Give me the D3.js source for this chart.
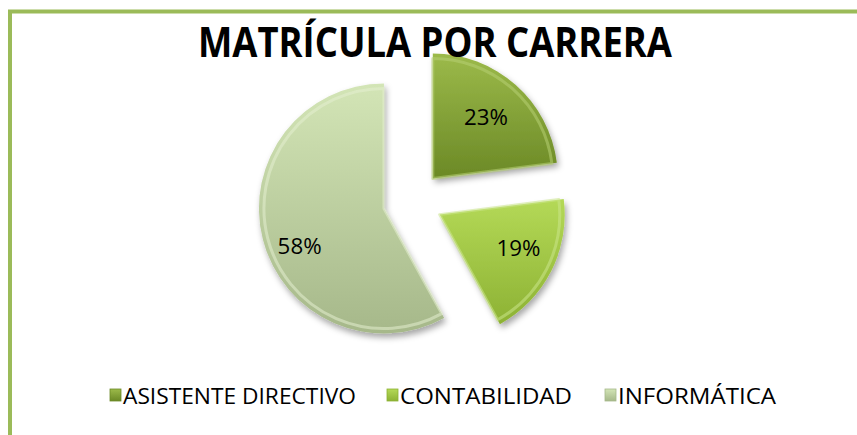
<!DOCTYPE html>
<html>
<head>
<meta charset="utf-8">
<script src="https://cdn.jsdelivr.net/npm/d3@7"></script>
<style>
  body { margin: 0; background: #fff; }
  svg { display: block; }
</style>
</head>
<body>
<div id="chart-area"></div>
<script>
var carreras = ['ASISTENTE DIRECTIVO', 'CONTABILIDAD', 'INFORMÁTICA'];
var porcentajes = [23, 19, 58];

var width = 857, height = 435;
var cx = 413, cy = 201, radius = 125, explode = 30;
// small nudges so the labels sit where the original has them
var labelNudge = [[-3, 1], [3, -6], [-2, 15]];

var colors = [
  { top: '#9cba4a', bottom: '#6b8926', edge: '#b6cf72' },
  { top: '#b4d957', bottom: '#8db234', edge: '#cbe58a' },
  { top: '#d3e5b6', bottom: '#a6b88a', edge: '#e3efcf' }
];

var svg = d3.select('#chart-area').append('svg')
  .attr('width', width)
  .attr('height', height);

var defs = svg.append('defs');

var shadow = defs.append('filter').attr('id', 'shadow')
  .attr('x', '-20%').attr('y', '-20%').attr('width', '140%').attr('height', '140%');
shadow.append('feDropShadow')
  .attr('dx', 2).attr('dy', 4).attr('stdDeviation', 3)
  .attr('flood-color', '#000').attr('flood-opacity', 0.35);

colors.forEach(function(c, i) {
  var g = defs.append('linearGradient').attr('id', 'grad' + i)
    .attr('x1', 0).attr('y1', 0).attr('x2', 0).attr('y2', 1);
  g.append('stop').attr('offset', '0%').attr('stop-color', c.top);
  g.append('stop').attr('offset', '100%').attr('stop-color', c.bottom);
});

// chart border (only top and left edges fall inside the picture)
svg.append('rect')
  .attr('x', 10).attr('y', 11.5)
  .attr('width', 900).attr('height', 500)
  .attr('fill', 'none')
  .attr('stroke', '#9bbb59')
  .attr('stroke-width', 4);

var pie = d3.pie().sort(null).value(function(d) { return d; });
var arcs = pie(porcentajes);

var arc = d3.arc().innerRadius(0).outerRadius(radius);
var innerArc = d3.arc().innerRadius(0).outerRadius(radius - 5);
var labelArc = d3.arc().innerRadius(radius * 0.68).outerRadius(radius * 0.68);

var slices = svg.selectAll('g.slice')
  .data(arcs)
  .enter()
  .append('g')
    .attr('class', 'slice')
    .attr('transform', function(d) {
      var a = (d.startAngle + d.endAngle) / 2;
      var x = cx + Math.sin(a) * explode;
      var y = cy - Math.cos(a) * explode;
      return 'translate(' + x + ',' + y + ')';
    });

slices.append('path')
  .attr('d', arc)
  .attr('fill', function(d, i) { return 'url(#grad' + i + ')'; })
  .attr('filter', 'url(#shadow)');

// soft bevel highlight
slices.append('path')
  .attr('d', innerArc)
  .attr('fill', 'none')
  .attr('stroke', function(d, i) { return colors[i].edge; })
  .attr('stroke-width', 3)
  .attr('stroke-opacity', 0.55)
  .attr('stroke-linejoin', 'round');

slices.append('text')
  .attr('x', function(d, i) { return labelArc.centroid(d)[0] + labelNudge[i][0]; })
  .attr('y', function(d, i) { return labelArc.centroid(d)[1] + labelNudge[i][1]; })
  .attr('text-anchor', 'middle')
  .attr('dominant-baseline', 'central')
  .attr('font-family', 'Open Sans, sans-serif')
  .attr('font-size', 22)
  .attr('textLength', 44)
  .attr('lengthAdjust', 'spacingAndGlyphs')
  .attr('fill', '#000')
  .text(function(d) { return d.data + '%'; });

// title, drawn on top of the slices
svg.append('text')
  .attr('x', 435)
  .attr('y', 57)
  .attr('text-anchor', 'middle')
  .attr('font-family', 'Open Sans, sans-serif')
  .attr('font-weight', 'bold')
  .attr('font-size', 41)
  .attr('textLength', 474)
  .attr('lengthAdjust', 'spacingAndGlyphs')
  .attr('fill', '#000')
  .text('MATRÍCULA POR CARRERA');

// legend
var legendX = d3.scaleOrdinal()
  .domain(carreras)
  .range([110, 387, 605]);
var legendW = [233, 172, 158];

var legend = svg.selectAll('g.legend')
  .data(carreras)
  .enter()
  .append('g')
    .attr('class', 'legend')
    .attr('transform', function(d) { return 'translate(' + legendX(d) + ',395)'; });

legend.append('rect')
  .attr('x', 0).attr('y', -6)
  .attr('width', 11).attr('height', 12)
  .attr('fill', function(d, i) { return 'url(#grad' + i + ')'; })
  .attr('stroke', function(d, i) { return colors[i].bottom; })
  .attr('stroke-width', 0.8);

legend.append('text')
  .attr('x', 13)
  .attr('y', 1)
  .attr('dominant-baseline', 'central')
  .attr('font-family', 'Open Sans, sans-serif')
  .attr('font-size', 21)
  .attr('textLength', function(d, i) { return legendW[i]; })
  .attr('lengthAdjust', 'spacingAndGlyphs')
  .attr('fill', '#000')
  .text(function(d) { return d; });
</script>
</body>
</html>
